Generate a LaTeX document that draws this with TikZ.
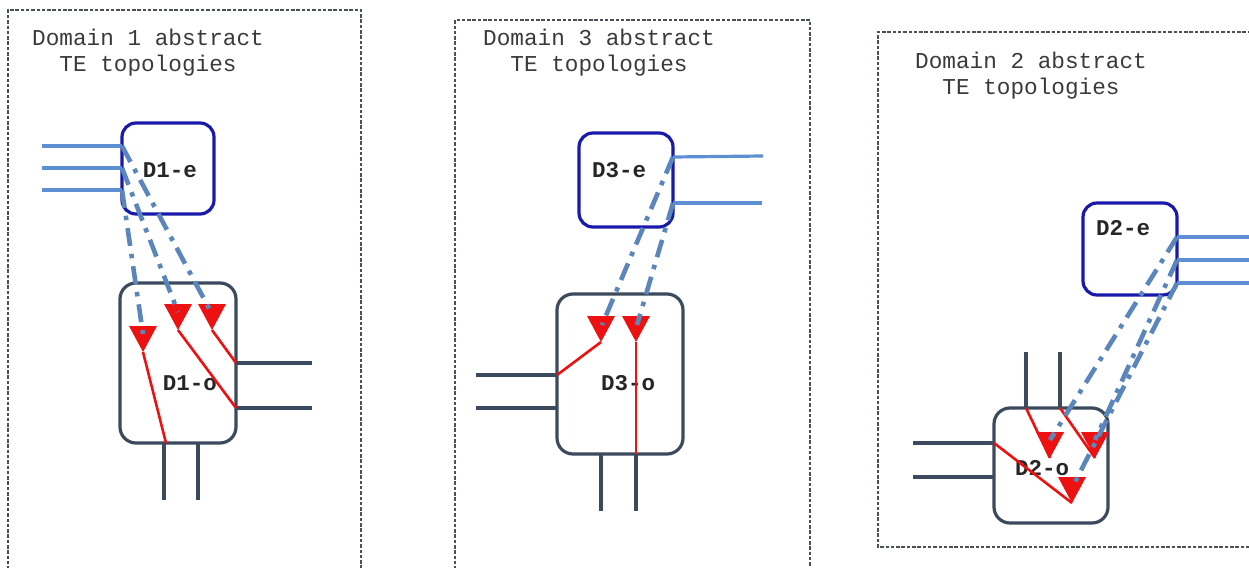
\documentclass[tikz,border=0pt]{standalone}
\usepackage{fontspec}
\setmonofont{Liberation Mono}
\definecolor{eblue}{HTML}{1A1AAA}
\definecolor{ogray}{HTML}{3B4A5C}
\definecolor{lblue}{HTML}{5F8FD3}
\definecolor{dblue}{HTML}{5A86BB}
\definecolor{tred}{HTML}{EE1111}
\definecolor{domgray}{HTML}{4A5058}
\definecolor{txtgray}{HTML}{3A3A3A}
\tikzset{
  ebox/.style={draw=eblue, line width=3.2pt, rounded corners=14pt, inner sep=0pt},
  obox/.style={draw=ogray, line width=3.2pt, rounded corners=16pt, inner sep=0pt},
  dombox/.style={draw=domgray, line width=1.4pt, dash pattern=on 3.5pt off 1.8pt},
  heading/.style={font=\ttfamily\fontsize{22.7}{26}\selectfont, text=txtgray, align=center, inner sep=0pt},
  boxlabel/.style={font=\ttfamily\bfseries\fontsize{22.5}{26}\selectfont, text=black!85, inner sep=0pt},
  solidblue/.style={draw=lblue, line width=3.2pt},
  darkline/.style={draw=ogray, line width=3.4pt},
  redline/.style={draw=tred, line width=2.6pt},
  dashdot/.style={draw=dblue, line width=4.6pt, dash pattern=on 18pt off 8pt on 4.5pt off 8pt},
  tri/.pic={\fill[tred] (-14,-26) -- (14,-26) -- (0,0) -- cycle;}
}
\begin{document}
\begin{tikzpicture}[x=1pt,y=-1pt]
\useasboundingbox (0,0) rectangle (1249,567);
% domain frames
\draw[dombox] (8,575) -- (8,10) -- (361,10) -- (361,575);
\draw[dombox] (455,575) -- (455,20) -- (810,20) -- (810,575);
\draw[dombox] (1260,547) -- (878,547) -- (878,32) -- (1260,32);
% headings
\node[heading] (h1) at (148,53) {Domain 1 abstract\\TE topologies};
\node[heading] (h3) at (599,53) {Domain 3 abstract\\TE topologies};
\node[heading] (h2) at (1031,76) {Domain 2 abstract\\TE topologies};

% ===== Domain 1 =====
\node[ebox, minimum width=92pt, minimum height=91pt] (d1e) at (168,168.5) {};
\node[obox, minimum width=116pt, minimum height=160pt] (d1o) at (178,363) {};
\node[boxlabel] (d1el) at (170,170) {D1-e};
\node[boxlabel] (d1ol) at (190,383) {D1-o};
\coordinate (d1a) at (42,146); \coordinate (d1b) at (42,168); \coordinate (d1c) at (42,190);
\coordinate (d1pa) at (122,146); \coordinate (d1pb) at (122,168); \coordinate (d1pc) at (122,190);
\draw[solidblue] (d1a) -- (d1pa); \draw[solidblue] (d1b) -- (d1pb); \draw[solidblue] (d1c) -- (d1pc);
\coordinate (d1r1) at (236,363); \coordinate (d1r2) at (236,408);
\coordinate (d1r1e) at (312,363); \coordinate (d1r2e) at (312,408);
\draw[darkline] (d1r1) -- (d1r1e); \draw[darkline] (d1r2) -- (d1r2e);
\coordinate (d1b1) at (164,443); \coordinate (d1b2) at (198,443);
\coordinate (d1b1e) at (164,500); \coordinate (d1b2e) at (198,500);
\draw[darkline] (d1b1) -- (d1b1e); \draw[darkline] (d1b2) -- (d1b2e);
\coordinate (d1tl) at (143,352); \coordinate (d1tm) at (178,330); \coordinate (d1tr) at (212,330);
\draw[redline] (d1tl) -- (166,443);
\draw[redline] (d1tm) -- (d1r2);
\draw[redline] (d1tr) -- (d1r1);
\pic at (d1tl) {tri}; \pic at (d1tm) {tri}; \pic at (d1tr) {tri};
\draw[dashdot] (d1pa) -- (211,312);
\draw[dashdot] (d1pb) -- (178,312);
\draw[dashdot] (d1pc) -- (143,334);

% ===== Domain 3 =====
\node[ebox, minimum width=94pt, minimum height=94pt] (d3e) at (626,180) {};
\node[obox, minimum width=126pt, minimum height=160pt] (d3o) at (620,374) {};
\node[boxlabel] (d3el) at (619,170) {D3-e};
\node[boxlabel] (d3ol) at (628,383) {D3-o};
\coordinate (d3pa) at (673,157); \coordinate (d3pb) at (673,203);
\coordinate (d3a) at (763,156); \coordinate (d3b) at (762,203);
\draw[solidblue] (d3pa) -- (d3a); \draw[solidblue] (d3pb) -- (d3b);
\coordinate (d3l1) at (557,375); \coordinate (d3l2) at (557,408);
\coordinate (d3l1e) at (476,375); \coordinate (d3l2e) at (476,408);
\draw[darkline] (d3l1) -- (d3l1e); \draw[darkline] (d3l2) -- (d3l2e);
\coordinate (d3b1) at (601,454); \coordinate (d3b2) at (636,454);
\coordinate (d3b1e) at (601,511); \coordinate (d3b2e) at (636,511);
\draw[darkline] (d3b1) -- (d3b1e); \draw[darkline] (d3b2) -- (d3b2e);
\coordinate (d3tl) at (601,342); \coordinate (d3tr) at (636,342);
\draw[redline] (d3tl) -- (d3l1);
\draw[redline] (d3tr) -- (d3b2);
\pic at (d3tl) {tri}; \pic at (d3tr) {tri};
\draw[dashdot] (d3pa) -- (602,325);
\draw[dashdot] (d3pb) -- (637,325);

% ===== Domain 2 =====
\node[ebox, minimum width=94pt, minimum height=92pt] (d2e) at (1130,249) {};
\node[obox, minimum width=114pt, minimum height=115pt] (d2o) at (1051,465.5) {};
\node[boxlabel] (d2el) at (1123,228) {D2-e};
\node[boxlabel] (d2ol) at (1042,468) {D2-o};
\coordinate (d2pa) at (1177,237); \coordinate (d2pb) at (1177,260); \coordinate (d2pc) at (1177,283);
\coordinate (d2a) at (1252,237); \coordinate (d2b) at (1252,260); \coordinate (d2c) at (1252,283);
\draw[solidblue] (d2pa) -- (d2a); \draw[solidblue] (d2pb) -- (d2b); \draw[solidblue] (d2pc) -- (d2c);
\coordinate (d2l1) at (994,443); \coordinate (d2l2) at (994,477);
\coordinate (d2l1e) at (913,443); \coordinate (d2l2e) at (913,477);
\draw[darkline] (d2l1) -- (d2l1e); \draw[darkline] (d2l2) -- (d2l2e);
\coordinate (d2u1) at (1026,408); \coordinate (d2u2) at (1060,408);
\coordinate (d2u1e) at (1026,352); \coordinate (d2u2e) at (1060,352);
\draw[darkline] (d2u1) -- (d2u1e); \draw[darkline] (d2u2) -- (d2u2e);
\coordinate (d2ta) at (1050,458); \coordinate (d2tb) at (1095,458); \coordinate (d2tc) at (1072,503);
\draw[redline] (d2u1) -- (d2ta);
\draw[redline] (d2u2) -- (d2tb);
\draw[redline] (d2l1) -- (d2tc);
\pic at (d2ta) {tri}; \pic at (d2tb) {tri}; \pic at (d2tc) {tri};
\draw[dashdot] (d2pa) -- (1050,440);
\draw[dashdot] (d2pb) -- (1095,440);
\draw[dashdot] (d2pc) -- (1074,484);
\end{tikzpicture}
\end{document}
